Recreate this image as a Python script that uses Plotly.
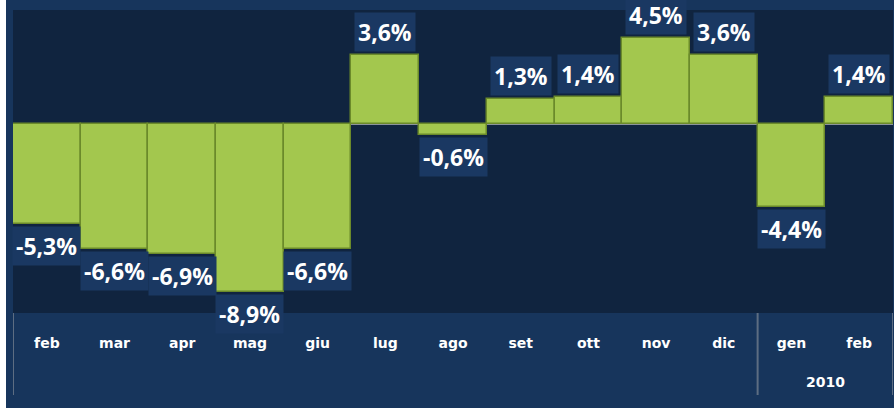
import plotly.graph_objects as go

# monthly change, feb 2009 -> feb 2010
months = ["feb", "mar", "apr", "mag", "giu", "lug", "ago", "set", "ott", "nov", "dic", "gen", "feb"]
changes = [-5.3, -6.6, -6.9, -8.9, -6.6, 3.6, -0.6, 1.3, 1.4, 4.5, 3.6, -4.4, 1.4]
year_label = "2010"
year_start = 11  # index of "gen"

OUTER_BG = "#17355c"
PLOT_BG = "#10243f"
BOX_BG = "#1a3862"
BAR = "#a3c74e"
BAR_EDGE = "#6b8a2a"
SEP = "#5d6d82"

xs = list(range(len(months)))

fig = go.Figure()
fig.add_trace(go.Bar(
    x=xs, y=changes, width=1,
    marker=dict(color=BAR, line=dict(color=BAR_EDGE, width=1.5)),
    hoverinfo="skip",
))

annotations = []
for i, v in zip(xs, changes):
    txt = f"{v:.1f}%".replace(".", ",")
    annotations.append(dict(
        x=i, y=v, xref="x", yref="y", text=f"<b>{txt}</b>", showarrow=False,
        yanchor="bottom" if v > 0 else "top", yshift=3 if v > 0 else -2,
        bgcolor=BOX_BG, borderpad=3,
        font=dict(family="Open Sans", size=23, color="white"),
    ))
annotations.append(dict(
    x=(year_start + len(months) - 1) / 2, y=0, xref="x", yref="paper",
    text=f"<b>{year_label}</b>", showarrow=False, yanchor="middle", yshift=-69,
    font=dict(family="DejaVu Sans", size=14, color="white"),
))

sep_h = -82 / 303
shapes = [
    dict(type="line", xref="x", yref="paper", x0=x, x1=x, y0=0, y1=sep_h,
         line=dict(color=SEP, width=2))
    for x in (-0.5, year_start - 0.5, len(months) - 0.5)
]

fig.update_layout(
    width=888, height=408,
    paper_bgcolor=OUTER_BG, plot_bgcolor=PLOT_BG,
    margin=dict(l=7, r=1, t=10, b=95),
    showlegend=False, bargap=0,
    annotations=annotations, shapes=shapes,
    xaxis=dict(
        range=[-0.5, len(months) - 0.5], tickvals=xs, ticktext=months,
        showgrid=False, zeroline=False, showline=False, ticks="",
        ticklabelstandoff=20,
        tickfont=dict(family="DejaVu Sans", size=14, color="white", weight="bold"),
    ),
    yaxis=dict(
        range=[-10, 6], showgrid=False, showticklabels=False,
        zeroline=True, zerolinecolor="#8c949a", zerolinewidth=1.5,
    ),
)

# white strip down the left edge, as in the source slide
fig.write_html(
    "out.html",
    config={"displayModeBar": False},
    post_script="document.body.style.margin='0 0 0 6px';document.body.style.background='white';",
)
